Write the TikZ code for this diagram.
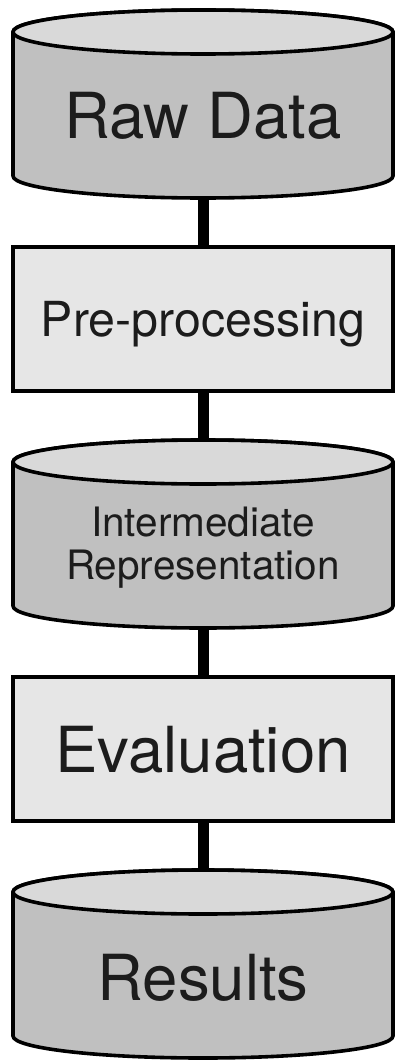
\documentclass[tikz,border=0pt]{standalone}
\usepackage{fontspec}
\setmainfont{TeX Gyre Heros}
\usetikzlibrary{positioning}
\definecolor{cylside}{HTML}{C0C0C0}
\definecolor{cyllid}{HTML}{D9D9D9}
\definecolor{stagefill}{HTML}{E6E6E6}
\definecolor{inkgray}{HTML}{1C1C1C}
\newcommand{\cylrx}{190pt}
\newcommand{\cylry}{22pt}
% draws a data store (cylinder) round an empty node
\newcommand{\drawcyl}[1]{%
  \filldraw[cylbody] ([yshift=-\cylry]#1.north west) -- ([yshift=\cylry]#1.south west)
    arc[start angle=180,end angle=360,x radius=\cylrx,y radius=\cylry]
    -- ([yshift=-\cylry]#1.north east)
    arc[start angle=0,end angle=180,x radius=\cylrx,y radius=\cylry] -- cycle;
  \filldraw[cyllidstyle] ([yshift=-\cylry]#1.north) ellipse[x radius=\cylrx,y radius=\cylry];
}
\tikzset{
  store/.style={minimum width=380pt,minimum height=188pt,inner sep=0pt,outer sep=0pt},
  cylbody/.style={fill=cylside,draw=black,line width=3.6pt,line join=round},
  cyllidstyle/.style={fill=cyllid,draw=black,line width=3.6pt},
  stage/.style={draw=black,fill=stagefill,line width=4pt,minimum width=380pt,
    minimum height=144pt,inner sep=0pt,outer sep=0pt,text=inkgray,text depth=0pt},
  caption/.style={text=inkgray,text depth=0pt,align=center,inner sep=0pt},
  pipe/.style={line width=11pt}
}

\begin{document}
\begin{tikzpicture}[x=1pt,y=1pt,node distance=49pt]
\useasboundingbox (0,0) rectangle (395,-1062);
\node[store] (raw) at (203,-104) {};
\node[stage,below=of raw,font=\fontsize{48.3}{58}\selectfont] (prep) {Pre-processing};
\node[store,below=of prep] (inter) {};
\node[stage,below=of inter,font=\fontsize{63.5}{76}\selectfont] (eval) {Evaluation};
\node[store,below=of eval] (res) {};
% the three stores
\drawcyl{raw}
\drawcyl{inter}
\drawcyl{res}
\node[caption,font=\fontsize{63.5}{76}\selectfont] (rawtext) at ([yshift=-11pt]raw.center) {Raw Data};
\node[caption,font=\fontsize{40.5}{43}\selectfont] (intertext) at ([yshift=-9pt]inter.center) {Intermediate\\Representation};
\node[caption,font=\fontsize{63.5}{76}\selectfont] (restext) at ([yshift=-13pt]res.center) {Results};
% pipeline
\draw[pipe] (raw) -- (prep);
\draw[pipe] (prep) -- (inter);
\draw[pipe] (inter) -- (eval);
\draw[pipe] (eval) -- (res);
\end{tikzpicture}
\end{document}
